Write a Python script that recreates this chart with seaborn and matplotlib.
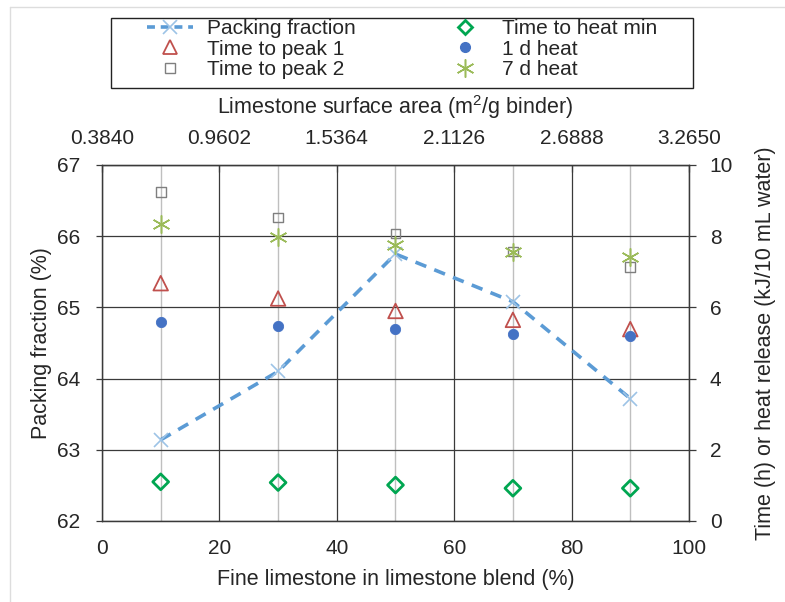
import numpy as np
import pandas as pd
import matplotlib
matplotlib.use("Agg")
import matplotlib.pyplot as plt
from matplotlib.ticker import MultipleLocator, FixedLocator
from matplotlib.lines import Line2D
from matplotlib.patches import Rectangle
import seaborn as sns

# fine limestone share in the blend (%)
fine_pct = [10, 30, 50, 70, 90]
packing_fraction = [63.14, 64.10, 65.75, 65.08, 63.72]
time_peak1 = [6.68, 6.25, 5.90, 5.65, 5.39]
time_peak2 = [9.25, 8.53, 8.08, 7.57, 7.13]
time_heat_min = [1.10, 1.08, 1.01, 0.92, 0.92]
heat_1d = [5.60, 5.49, 5.38, 5.24, 5.21]
heat_7d = [8.33, 7.97, 7.75, 7.57, 7.42]
surface_ticks = [0.3840, 0.9602, 1.5364, 2.1126, 2.6888, 3.2650]

df = pd.DataFrame({
    "fine": fine_pct,
    "packing": packing_fraction,
    "peak1": time_peak1,
    "peak2": time_peak2,
    "heatmin": time_heat_min,
    "heat1d": heat_1d,
    "heat7d": heat_7d,
})

sns.set_style("white")
plt.rcParams["font.family"] = ["Liberation Sans", "DejaVu Sans"]
plt.rcParams["mathtext.fontset"] = "custom"
plt.rcParams["mathtext.rm"] = "Liberation Sans"
plt.rcParams["mathtext.it"] = "Liberation Sans"

c_pack = "#5B9BD5"
c_pack_mk = "#9DC3E6"
c_peak1 = "#C0504D"
c_peak2 = "#7F7F7F"
c_min = "#00A651"
c_1d = "#4472C4"
c_7d = "#9BBB59"
grid_c = "#3A3A3A"
tick_fs = 15
label_fs = 15.5

fig = plt.figure(figsize=(7.85, 6.02), dpi=100)
W, H = 785.0, 602.0
ax = fig.add_axes([102 / W, 1 - 521 / H, 587 / W, 356 / H])

# packing fraction on left axis
sns.lineplot(data=df, x="fine", y="packing", ax=ax, color=c_pack, lw=2.6,
             dashes=False, zorder=4)
ax.lines[-1].set_dashes([3.2, 2.4])
ax.plot(df["fine"], df["packing"], ls="none", marker="x", ms=10, mew=1.2,
        color=c_pack_mk, zorder=5)
ax.set_xlim(0, 100)
ax.set_ylim(62, 67)
ax.xaxis.set_major_locator(MultipleLocator(20))
ax.xaxis.set_minor_locator(FixedLocator(fine_pct))
ax.yaxis.set_major_locator(MultipleLocator(1))
ax.grid(True, which="major", color=grid_c, lw=0.9)
ax.grid(True, which="minor", axis="x", color="#BFBFBF", lw=1.0)
ax.set_axisbelow(True)
ax.tick_params(axis="x", which="both", length=0, labelsize=tick_fs, pad=13)
ax.tick_params(axis="y", length=4, width=0.9, color=grid_c, labelsize=tick_fs,
               direction="out", pad=12, left=True)
ax.set_xlabel("Fine limestone in limestone blend (%)", fontsize=label_fs,
              labelpad=8)
ax.set_ylabel("Packing fraction (%)", fontsize=label_fs, labelpad=3)
for s in ax.spines.values():
    s.set_visible(True)
    s.set_color(grid_c)
    s.set_linewidth(0.9)

# times and heats on right axis
ax2 = ax.twinx()
sns.scatterplot(data=df, x="fine", y="peak1", ax=ax2, marker="^", s=110,
                facecolor="none", edgecolor=c_peak1, linewidth=1.3, zorder=5)
sns.scatterplot(data=df, x="fine", y="peak2", ax=ax2, marker="s", s=48,
                facecolor="none", edgecolor=c_peak2, linewidth=1.0, zorder=5)
sns.scatterplot(data=df, x="fine", y="heatmin", ax=ax2, marker="D", s=65,
                facecolor="none", edgecolor=c_min, linewidth=2.0, zorder=5)
sns.scatterplot(data=df, x="fine", y="heat1d", ax=ax2, marker="o", s=55,
                color=c_1d, edgecolor=c_1d, zorder=5)
ax2.plot(df["fine"], df["heat7d"], ls="none", marker=(6, 2, 0), ms=13,
         mew=1.1, color=c_7d, zorder=5)
ax2.set_ylim(0, 10)
ax2.yaxis.set_major_locator(MultipleLocator(2))
ax2.tick_params(axis="y", length=5, width=0.9, color=grid_c, labelsize=tick_fs,
                direction="out", pad=10, right=True)
ax2.set_ylabel("Time (h) or heat release (kJ/10 mL water)", fontsize=label_fs,
               labelpad=16)
ax2.grid(False)
for s in ax2.spines.values():
    s.set_color(grid_c)
    s.set_linewidth(0.9)

# limestone surface area on top axis
lo, hi = surface_ticks[0], surface_ticks[-1]
top = ax.secondary_xaxis(
    "top",
    functions=(lambda x: lo + x * (hi - lo) / 100.0,
               lambda v: (v - lo) * 100.0 / (hi - lo)))
top.set_xticks(surface_ticks)
top.set_xticklabels([f"{v:.4f}" for v in surface_ticks])
top.tick_params(axis="x", length=5, width=0.9, color=grid_c, direction="in",
                labelsize=tick_fs, pad=12)
top.set_xlabel("Limestone surface area (m$^{2}$/g binder)", fontsize=label_fs,
               labelpad=11)

# legend: frameless entries plus a separate box
handles = [
    Line2D([], [], color=c_pack, lw=2.6, dashes=[2.2, 1.6], marker="x", ms=10,
           mec=c_pack_mk, mew=1.2),
    Line2D([], [], ls="none", marker="^", ms=9.5, mfc="none", mec=c_peak1, mew=1.3),
    Line2D([], [], ls="none", marker="s", ms=6.5, mfc="none", mec=c_peak2, mew=1.0),
    Line2D([], [], ls="none", marker="D", ms=7, mfc="none", mec=c_min, mew=2.0),
    Line2D([], [], ls="none", marker="o", ms=7, color=c_1d),
    Line2D([], [], ls="none", marker=(6, 2, 0), ms=13, mew=1.1, color=c_7d),
]
labels = ["Packing fraction", "Time to peak 1", "Time to peak 2",
          "Time to heat min", "1 d heat", "7 d heat"]
leg = fig.legend(handles, labels, ncol=2, loc="upper left",
                 bbox_to_anchor=(147 / W, 1 - 19 / H), frameon=False,
                 fontsize=15, handlelength=2.2, labelspacing=0.08,
                 borderpad=0, borderaxespad=0, columnspacing=4.1,
                 handletextpad=0.7)
fig.patches.append(Rectangle((111 / W, 1 - 88 / H), 582 / W, 70 / H,
                             transform=fig.transFigure, fill=False,
                             edgecolor="#222222", lw=1.0))

# faint outline of the original figure
fig.add_artist(Line2D([10 / W, 1], [1 - 7 / H, 1 - 7 / H],
                      transform=fig.transFigure, color="#DDDDDD", lw=1))
fig.add_artist(Line2D([10 / W, 10 / W], [0, 1 - 7 / H],
                      transform=fig.transFigure, color="#DDDDDD", lw=1))

fig.savefig("out.png", dpi=100, facecolor="white")
